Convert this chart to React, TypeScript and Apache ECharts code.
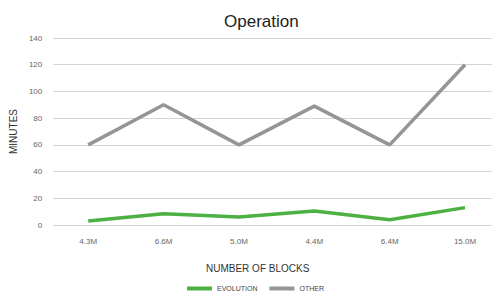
import React, { useEffect, useRef } from "react";
import * as echarts from "echarts";

const categories = ["4.3M", "6.6M", "5.0M", "4.4M", "6.4M", "15.0M"];
const evolution = [3, 8.5, 6, 10.5, 4, 13];
const other = [60, 90, 60, 89, 60, 120];
const yTicks = [0, 140, 20];

export default function App() {
  const ref = useRef<HTMLDivElement>(null);
  useEffect(() => {
    if (!ref.current) return;
    const chart = echarts.init(ref.current, undefined, { renderer: "svg" });
    const font = "'Liberation Sans', Arial, sans-serif";
    const idx = categories.map((_, i) => i);
    chart.setOption({
      animation: false,
      backgroundColor: "#ffffff",
      textStyle: { fontFamily: font },
      title: {
        text: "Operation",
        left: 219,
        top: 8,
        textStyle: { fontSize: 17, fontWeight: "normal", color: "#222", fontFamily: font },
      },
      grid: { left: 53, right: 0, top: 38, bottom: 78, containLabel: false },
      xAxis: {
        type: "value",
        min: -0.464,
        max: 5.358,
        axisLine: { show: false },
        axisTick: { show: false },
        axisLabel: {
          customValues: idx,
          color: "#666",
          fontSize: 8,
          margin: 12,
          fontFamily: font,
          formatter: (v: number) => categories[Math.round(v)] ?? "",
        },
        splitLine: { show: false },
      },
      yAxis: {
        type: "value",
        min: yTicks[0],
        max: yTicks[1],
        interval: yTicks[2],
        name: "MINUTES",
        nameLocation: "middle",
        nameGap: 34,
        nameTextStyle: { color: "#333", fontSize: 10, fontFamily: font },
        axisLine: { show: false },
        axisTick: { show: false },
        axisLabel: { color: "#666", fontSize: 8, margin: 11, fontFamily: font },
        splitLine: { lineStyle: { color: "#d4d4d4", width: 1 } },
      },
      legend: {
        bottom: 6,
        left: 182,
        icon: "rect",
        itemWidth: 25,
        itemHeight: 4,
        itemGap: 12,
        textStyle: { fontSize: 7, color: "#444", fontFamily: font },
        data: ["EVOLUTION", "OTHER"],
      },
      graphic: [
        {
          type: "text",
          left: 206,
          top: 263,
          style: { text: "NUMBER OF BLOCKS", fontSize: 10, fill: "#333", fontFamily: font },
        },
      ],
      series: [
        {
          name: "EVOLUTION",
          type: "line",
          data: evolution.map((v, i) => [i, v]),
          symbol: "none",
          lineStyle: { color: "#4cb043", width: 3.5 },
          itemStyle: { color: "#4cb043" },
        },
        {
          name: "OTHER",
          type: "line",
          data: other.map((v, i) => [i, v]),
          symbol: "none",
          lineStyle: { color: "#959595", width: 3.5 },
          itemStyle: { color: "#959595" },
        },
      ],
    });
    return () => chart.dispose();
  }, []);
  return (
    <div
      ref={ref}
      style={{ position: "absolute", left: 0, top: 0, width: 492, height: 303 }}
    />
  );
}
